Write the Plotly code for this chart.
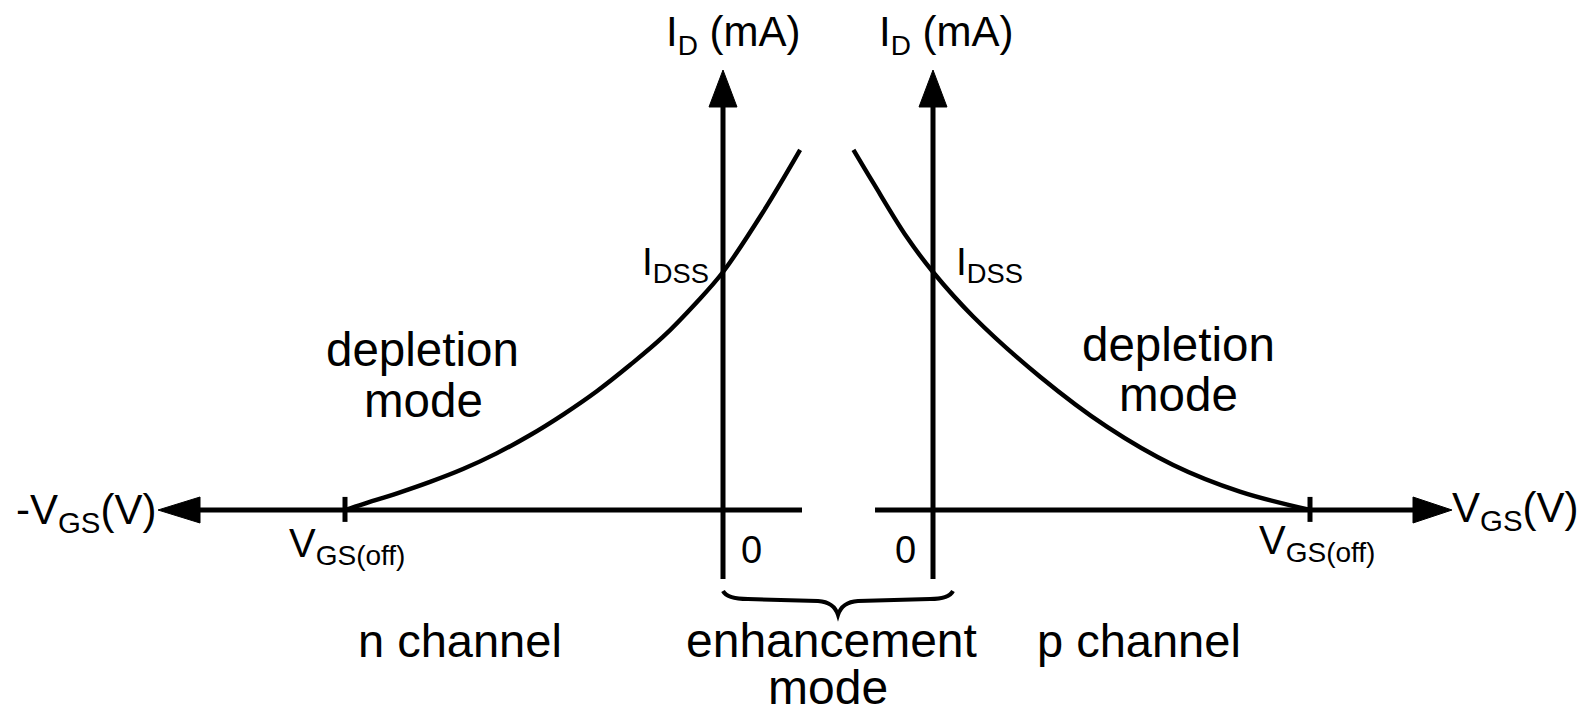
import plotly.graph_objects as go

# ---------------- data (normalised: VGS / |VGS(off)| , ID / IDSS) ----------------
n_vgs = [-1.0, -0.952, -0.862, -0.775, -0.688, -0.599, -0.511, -0.422, -0.333,
         -0.246, -0.159, -0.070, 0.0, 0.106, 0.204]
n_id = [0.0, 0.025, 0.070, 0.118, 0.172, 0.238, 0.314, 0.402, 0.500,
        0.609, 0.727, 0.872, 1.0, 1.252, 1.513]

p_vgs = [-0.211, -0.158, -0.070, 0.0, 0.107, 0.284, 0.461, 0.637, 0.814, 1.0]
p_id = [1.513, 1.373, 1.148, 1.0, 0.812, 0.560, 0.350, 0.189, 0.077, 0.0]

# ---------------- geometry / style ----------------
W, H = 1593, 707
FONT = "Liberation Sans, Arial, sans-serif"
BLACK = "#000000"
AX_W = 5
CURVE_W = 4.4

# axis ranges (left panel: x, right panel: x2, shared y)
XL_RANGE = [-723 / 378, (W - 723) / 378]
XR_RANGE = [-933 / 377, (W - 933) / 377]
Y_RANGE = [(510 - H) / 238, 510 / 238]

fig = go.Figure()


def line(xs, ys, xa, width=AX_W):
    fig.add_trace(go.Scatter(x=xs, y=ys, xaxis=xa, yaxis="y", mode="lines",
                             line=dict(color=BLACK, width=width),
                             hoverinfo="skip", showlegend=False))


def tri(xs, ys, xa):
    fig.add_trace(go.Scatter(x=xs, y=ys, xaxis=xa, yaxis="y", mode="lines",
                             fill="toself", fillcolor=BLACK,
                             line=dict(color=BLACK, width=1),
                             hoverinfo="skip", showlegend=False))


# --- left (n channel) axes ---
line([-1.3836, 0.209], [0, 0], "x")                 # horizontal axis
tri([-1.4947, -1.3836, -1.3836, -1.4947], [0, 0.0546, -0.0546, 0], "x")
line([0, 0], [-0.2899, 1.70], "x")                  # vertical axis
tri([0, -0.037, 0.037, 0], [1.8487, 1.6933, 1.6933, 1.8487], "x")
line([-1, -1], [0.055, -0.050], "x", width=AX_W)   # VGS(off) tick

# --- right (p channel) axes ---
line([-0.1538, 1.2732], [0, 0], "x2")
tri([1.3767, 1.2732, 1.2732, 1.3767], [0, 0.0546, -0.0546, 0], "x2")
line([0, 0], [-0.2899, 1.70], "x2")
tri([0, -0.0371, 0.0371, 0], [1.8487, 1.6933, 1.6933, 1.8487], "x2")
line([1, 1], [0.055, -0.050], "x2", width=AX_W)

# --- transfer curves ---
fig.add_trace(go.Scatter(x=n_vgs, y=n_id, xaxis="x", yaxis="y", mode="lines",
                         line=dict(color=BLACK, width=CURVE_W, shape="spline", smoothing=1.0),
                         hoverinfo="skip", showlegend=False, name="n channel"))
fig.add_trace(go.Scatter(x=p_vgs, y=p_id, xaxis="x2", yaxis="y", mode="lines",
                         line=dict(color=BLACK, width=CURVE_W, shape="spline", smoothing=1.0),
                         hoverinfo="skip", showlegend=False, name="p channel"))

# --- brace under the enhancement region (pixel axes x3/y3) ---
fig.add_shape(type="path", xref="x3", yref="y3",
              path="M 723,591 Q 727,599 748,599 L 818,601 Q 834,602 838,615 "
                   "Q 842,602 858,601 L 930,599 Q 949,599 953,591",
              line=dict(color=BLACK, width=4))

# --- text ---
anns = []


def txt(text, x, baseline, size, xanchor="left", dy=0.0):
    # place by baseline (approx: bbox middle = baseline - 0.35*size)
    anns.append(dict(text=text, x=x, y=baseline - 0.35 * size + dy,
                     xref="x3", yref="y3", xanchor=xanchor, yanchor="middle",
                     showarrow=False, borderpad=0,
                     font=dict(family=FONT, size=size, color=BLACK)))


sub_d = 'I<sub><span style="font-size:28px">D</span></sub> (mA)'
txt(sub_d, 665, 43, 42, dy=6)
txt(sub_d, 878, 43, 42, dy=6)
txt("I<sub>DSS</sub>", 641, 273, 39, dy=5)
txt("I<sub>DSS</sub>", 955, 273, 39, dy=5)
txt("depletion", 422, 362, 47.5, xanchor="center", dy=4)
txt("mode", 423, 413, 47.5, xanchor="center", dy=4)
txt("depletion", 1178, 357, 47.5, xanchor="center", dy=4)
txt("mode", 1178, 407, 47.5, xanchor="center", dy=4)
txt("-V<sub>GS</sub>(V)", 15, 522, 42, dy=5)
txt("V<sub>GS</sub>(V)", 1451, 520, 42, dy=5)
txt("V<sub>GS(off)</sub>", 288, 555, 40, dy=5)
txt("V<sub>GS(off)</sub>", 1258, 552, 40, dy=5)
txt("0", 751, 560, 38, xanchor="center", dy=3)
txt("0", 905, 560, 38, xanchor="center", dy=3)
txt("n channel", 460, 653, 47, xanchor="center", dy=4)
txt("p channel", 1139, 653, 47, xanchor="center", dy=4)
txt("enhancement", 831, 653, 48, xanchor="center", dy=4)
txt("mode", 828, 703, 48, xanchor="center", dy=1)

hidden = dict(visible=False, showgrid=False, zeroline=False, fixedrange=True)
fig.update_layout(
    width=W, height=H, autosize=False,
    margin=dict(l=0, r=0, t=0, b=0, pad=0),
    paper_bgcolor="white", plot_bgcolor="white",
    xaxis=dict(range=XL_RANGE, domain=[0, 1], **hidden),
    xaxis2=dict(range=XR_RANGE, domain=[0, 1], overlaying="x", **hidden),
    yaxis=dict(range=Y_RANGE, domain=[0, 1], **hidden),
    xaxis3=dict(range=[0, W], domain=[0, 1], overlaying="x", **hidden),
    yaxis3=dict(range=[H, 0], domain=[0, 1], overlaying="y", **hidden),
    annotations=anns,
    showlegend=False,
)
# dummy trace so x3/y3 exist
fig.add_trace(go.Scatter(x=[0], y=[0], xaxis="x3", yaxis="y3", mode="markers",
                         marker=dict(opacity=0), hoverinfo="skip", showlegend=False))

fig.write_html("out.html", config={"displayModeBar": False},
               post_script="document.body.style.margin='0';document.body.style.overflow='hidden';")
